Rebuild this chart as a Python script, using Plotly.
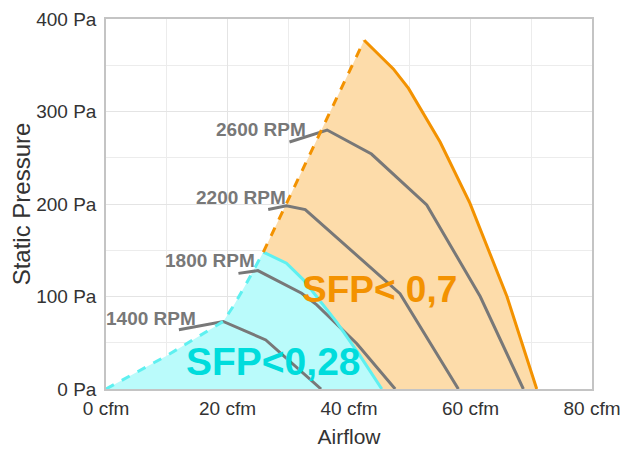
import plotly.graph_objects as go

# SFP < 0.7 envelope (dashed left edge, then solid outline)
orange_x = [25.9, 42.5, 47.3, 49.8, 55.0, 59.9, 66.0, 70.9]
orange_y = [148, 377, 346, 325, 267, 201, 100, 0]

# SFP < 0.28 envelope (dashed part first 6 points, then solid)
cyan_x = [0, 10.0, 19.3, 20.9, 23.1, 25.9, 29.7, 32.5, 35.2, 38.0, 41.8, 45.4]
cyan_y = [0, 36, 73, 89, 114, 148, 136, 118, 96, 72, 36, 0]

# Fan curves
rpm2600_x = [30.2, 36.4, 43.7, 52.8, 61.6, 68.7]
rpm2600_y = [267, 280, 254, 199, 100, 0]
rpm2200_x = [26.7, 29.7, 32.8, 48.4, 58.0]
rpm2200_y = [194, 198, 194, 103, 0]
rpm1800_x = [21.8, 25.0, 32.2, 34.7, 41.3, 47.6]
rpm1800_y = [125, 128, 103.5, 91, 49, 0]
rpm1400_x = [12.0, 19.3, 26.3, 35.4]
rpm1400_y = [64, 73, 53, 0]

rpm_labels = ["2600 RPM", "2200 RPM", "1800 RPM", "1400 RPM"]
rpm_label_x = [33.3, 29.9, 24.8, 15.2]
rpm_label_y = [281, 207, 139, 76]

x_ticks = [0, 20, 40, 60, 80]
x_tick_text = ["0 cfm", "20 cfm", "40 cfm", "60 cfm", "80 cfm"]
y_ticks = [0, 100, 200, 300, 400]
y_tick_text = ["0 Pa", "100 Pa", "200 Pa", "300 Pa", "400 Pa"]

ORANGE = "#f39200"
ORANGE_FILL = "#fddcaa"
CYAN_LINE = "#5ef0f0"
CYAN_FILL = "#bafbfb"
CYAN_TEXT = "#00dcdc"
GRAY = "#787878"
FONT = "Liberation Sans, Arial, sans-serif"

fig = go.Figure()

# orange fill area: dashed edge + outline, back along the cyan solid boundary
fig.add_trace(go.Scatter(x=orange_x + cyan_x[5:][::-1], y=orange_y + cyan_y[5:][::-1],
                         fill="toself", fillcolor=ORANGE_FILL, mode="none",
                         hoverinfo="skip"))
# cyan fill area
fig.add_trace(go.Scatter(x=cyan_x, y=cyan_y, fill="toself", fillcolor=CYAN_FILL,
                         mode="none", hoverinfo="skip"))

# fan curves
for xs, ys in [(rpm2600_x, rpm2600_y), (rpm2200_x, rpm2200_y),
               (rpm1800_x, rpm1800_y), (rpm1400_x, rpm1400_y)]:
    fig.add_trace(go.Scatter(x=xs, y=ys, mode="lines",
                             line=dict(color=GRAY, width=3)))

# envelopes
fig.add_trace(go.Scatter(x=cyan_x[:6], y=cyan_y[:6], mode="lines",
                         line=dict(color=CYAN_LINE, width=3, dash="dash")))
fig.add_trace(go.Scatter(x=cyan_x[5:], y=cyan_y[5:], mode="lines",
                         line=dict(color=CYAN_LINE, width=3)))
fig.add_trace(go.Scatter(x=orange_x[:2], y=orange_y[:2], mode="lines",
                         line=dict(color=ORANGE, width=3, dash="dash")))
fig.add_trace(go.Scatter(x=orange_x[1:], y=orange_y[1:], mode="lines",
                         line=dict(color=ORANGE, width=3)))

for t, x, y in zip(rpm_labels, rpm_label_x, rpm_label_y):
    fig.add_annotation(x=x, y=y, text="<b>" + t + "</b>", showarrow=False,
                       xanchor="right", yanchor="middle",
                       font=dict(family=FONT, size=19, color=GRAY))

fig.add_annotation(x=45.1, y=108, text="<b>SFP< 0,7</b>", showarrow=False,
                   xanchor="center", yanchor="middle",
                   font=dict(family=FONT, size=37, color=ORANGE))
fig.add_annotation(x=27.5, y=30, text="<b>SFP<0,28</b>", showarrow=False,
                   xanchor="center", yanchor="middle",
                   font=dict(family=FONT, size=39, color=CYAN_TEXT))

fig.update_layout(
    width=634, height=449,
    margin=dict(l=98, r=50, t=11, b=68),
    paper_bgcolor="white", plot_bgcolor="white",
    showlegend=False,
    font=dict(family=FONT, size=19, color="#333333"),
)
fig.update_xaxes(range=[0, 80], tickvals=x_ticks, ticktext=x_tick_text,
                 automargin=False,
                 showgrid=True, gridcolor="#e4e4e4", gridwidth=1,
                 minor=dict(dtick=10, showgrid=True, gridcolor="#ececec"),
                 showline=True, linecolor="#c4c4c4", linewidth=1.5, mirror=True,
                 zeroline=False, ticks="", ticklabelstandoff=1,
                 title=dict(text="Airflow", font=dict(size=21, color="#333333"), standoff=12))
fig.update_yaxes(range=[0, 400], tickvals=y_ticks, ticktext=y_tick_text,
                 automargin=False,
                 showgrid=True, gridcolor="#e4e4e4", gridwidth=1,
                 minor=dict(dtick=50, showgrid=True, gridcolor="#ececec"),
                 showline=True, linecolor="#c4c4c4", linewidth=1.5, mirror=True,
                 zeroline=False, ticks="", ticklabelstandoff=4,
                 title=dict(text="Static Pressure", font=dict(size=24, color="#333333"), standoff=4))

fig.write_html("out.html")
